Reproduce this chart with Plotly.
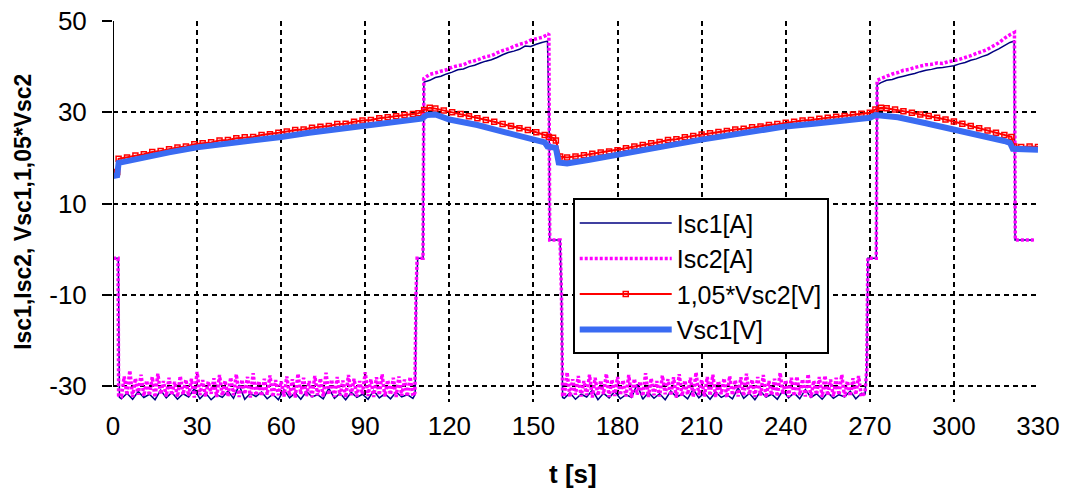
import plotly.graph_objects as go

# ---------------- data ----------------
# Isc1 [A]  (navy, solid)
isc1_t_start = [0, 1.9, 2.3]
isc1_start = [-2.0, -2.0, -32.5]
isc1_t_noise1 = list(range(3, 108, 2))
isc1_noise1 = [-32.8, -31.6, -32.9, -31.2, -32.5, -31.8, -33.0, -30.9, -32.6, -31.4,
               -32.9, -31.7, -32.4, -30.6, -32.8, -31.5, -33.0, -31.9, -32.5, -31.1,
               -32.7, -29.8, -32.9, -31.6, -32.3, -31.3, -32.8, -31.8, -33.0, -30.8,
               -32.6, -31.5, -32.9, -31.2, -32.4, -31.9, -32.8, -30.5, -32.7, -31.6,
               -33.0, -31.4, -32.5, -31.8, -32.9, -31.0, -32.6, -31.7, -32.8, -31.3,
               -32.4, -31.9, -32.7]
isc1_t_rise1 = [107.8, 108.2, 108.7, 110.6, 110.9]
isc1_rise1 = [-31.8, -10.0, -2.0, -2.0, 36.4]
isc1_t_dis1 = list(range(111, 156, 2))
isc1_dis1 = [36.6, 37.0, 37.6, 37.9, 38.4, 38.8, 39.3, 39.5, 40.0, 40.3, 40.8, 41.2,
             41.5, 42.0, 42.6, 43.1, 43.4, 43.8, 44.5, 44.4, 44.9, 45.3, 45.6]
isc1_t_fall1 = [155.4, 155.6, 155.8, 159.5, 160.0, 160.4]
isc1_fall1 = [33.5, 28.8, 2.0, 2.0, -10.0, -32.5]
isc1_t_noise2 = list(range(161, 268, 2))
isc1_noise2 = [-32.7, -31.5, -32.9, -31.8, -32.4, -30.9, -33.0, -31.6, -32.6, -31.2,
               -32.8, -31.9, -32.5, -29.6, -32.9, -31.4, -32.7, -31.7, -33.0, -31.1,
               -32.4, -31.8, -32.8, -30.7, -32.6, -31.5, -32.9, -31.3, -32.5, -31.9,
               -32.8, -30.4, -32.7, -31.6, -33.0, -31.2, -32.4, -31.8, -32.9, -31.0,
               -32.6, -31.5, -32.8, -30.8, -32.5, -31.7, -32.9, -31.4, -32.7, -31.9,
               -32.4, -31.1, -32.8, -31.6]
isc1_t_rise2 = [268.3, 268.9, 269.3, 272.3, 272.6]
isc1_rise2 = [-31.8, -26.5, -2.0, -2.0, 36.0]
isc1_t_dis2 = list(range(274, 321, 2))
isc1_dis2 = [36.5, 37.0, 37.2, 37.6, 37.9, 38.2, 38.5, 38.9, 39.2, 39.4, 39.7, 39.8,
             40.0, 40.2, 40.6, 40.9, 41.4, 41.7, 42.2, 42.6, 43.3, 43.9, 44.6, 45.3]
isc1_t_end = [321.5, 321.8, 328.5]
isc1_end = [45.6, 2.0, 2.0]

# Isc2 [A]  (magenta, dotted)
isc2_t_start = [0, 1.8, 2.0]
isc2_start = [-2.0, -2.0, -32.0]
isc2_t_noise1 = list(range(3, 108))
isc2_noise1 = [-32.3, -27.9, -32.0, -26.6, -32.4, -28.3, -31.9, -27.5, -32.2, -28.8,
               -32.1, -28.0, -32.5, -27.3, -31.8, -28.9, -32.3, -28.2, -32.0, -29.1,
               -32.4, -27.8, -31.9, -28.6, -32.2, -28.4, -32.5, -26.9, -32.0, -28.7,
               -32.3, -29.0, -31.7, -28.3, -32.4, -27.6, -32.1, -28.8, -32.3, -28.1,
               -32.0, -27.4, -32.4, -28.6, -31.8, -28.0, -32.5, -27.2, -32.1, -28.9,
               -32.2, -28.4, -31.9, -27.7, -32.4, -28.7, -32.0, -29.0, -32.3, -27.9,
               -32.1, -28.5, -32.5, -27.3, -31.8, -28.2, -32.2, -28.9, -32.4, -27.8,
               -32.0, -28.3, -32.3, -27.1, -31.9, -28.6, -32.4, -28.0, -32.1, -28.8,
               -32.5, -27.6, -32.0, -28.4, -32.3, -28.9, -31.8, -27.0, -32.2, -28.5,
               -32.4, -28.1, -32.0, -27.4, -32.3, -28.7, -31.9, -28.2, -32.4, -27.9,
               -32.1, -28.6, -32.3, -28.0, -32.2]
isc2_t_rise1 = [107.7, 108.1, 108.5, 110.6, 110.9]
isc2_rise1 = [-31.5, -10.0, -2.0, -2.0, 37.4]
isc2_t_dis1 = list(range(113, 156, 2))
isc2_dis1 = [38.3, 38.6, 39.0, 39.3, 39.9, 40.2, 40.4, 41.0, 41.3, 41.7, 42.2, 42.4,
             43.0, 43.5, 43.9, 44.4, 44.9, 45.2, 45.8, 46.1, 46.4, 47.0]
isc2_t_fall1 = [155.5, 155.8, 159.5, 160.0, 160.4]
isc2_fall1 = [47.2, 2.0, 2.0, -10.0, -32.0]
isc2_t_noise2 = list(range(161, 268))
isc2_noise2 = [-32.2, -27.0, -32.4, -28.5, -31.9, -27.8, -32.3, -28.9, -32.0, -27.5,
               -32.5, -28.2, -32.1, -28.8, -31.8, -27.3, -32.4, -28.6, -32.2, -28.0,
               -32.0, -28.7, -32.3, -27.6, -32.5, -28.4, -31.9, -29.0, -32.2, -27.2,
               -32.4, -28.3, -32.0, -28.9, -32.3, -27.7, -31.8, -28.5, -32.1, -28.1,
               -32.5, -27.4, -32.2, -28.8, -31.9, -28.2, -32.4, -27.0, -32.0, -28.6,
               -32.3, -28.0, -32.1, -27.5, -32.4, -28.9, -31.8, -28.3, -32.5, -27.8,
               -32.0, -28.7, -32.3, -28.1, -32.2, -27.3, -31.9, -28.6, -32.4, -28.0,
               -32.1, -27.6, -32.5, -28.9, -32.0, -28.4, -32.3, -27.1, -31.8, -28.7,
               -32.4, -28.2, -32.2, -27.9, -32.0, -28.5, -32.3, -27.4, -32.5, -28.8,
               -31.9, -28.0, -32.4, -27.7, -32.1, -28.6, -32.3, -28.2, -32.0, -27.5,
               -32.4, -28.9, -32.2, -28.3, -31.9, -27.8, -32.3]
isc2_t_rise2 = [268.3, 268.9, 269.3, 272.3, 272.6]
isc2_rise2 = [-31.5, -26.5, -2.0, -2.0, 37.0]
isc2_t_dis2 = list(range(274, 321, 2))
isc2_dis2 = [37.4, 37.9, 38.4, 38.7, 39.2, 39.4, 39.8, 40.1, 40.4, 40.5, 40.8, 40.7,
             41.1, 41.3, 41.6, 42.0, 42.4, 42.9, 43.3, 43.8, 44.5, 45.2, 46.2, 47.0]
isc2_t_end = [321.6, 321.9, 328.5]
isc2_end = [47.5, 2.0, 2.0]

# 1,05*Vsc2 [V]  (red with small open markers)
vsc2_t = ([0, 1.5] + list(range(2, 108, 3)) +
          [109, 111, 113, 115, 118, 121, 124, 127, 130, 133, 136, 139, 142, 145, 148,
           151, 154, 155.5, 157, 158, 159.5] +
          list(range(162, 271, 3)) +
          [272, 274, 276, 279, 282, 285, 288, 291, 294, 297, 300, 303, 306, 309, 312,
           315, 318, 320.5, 321.5, 324, 327, 330])
vsc2_105 = ([16.6, 16.9] +
            [19.8, 20.1, 20.5, 20.8, 21.3, 21.5, 21.9, 22.3, 22.5, 23.0, 23.2, 23.4,
             23.8, 23.9, 24.3, 24.5, 24.6, 25.0, 25.2, 25.5, 25.8, 26.1, 26.2, 26.6,
             26.8, 27.0, 27.4, 27.5, 27.9, 28.2, 28.3, 28.7, 28.9, 29.1, 29.4, 29.6] +
            [29.8, 30.5, 31.0, 30.8, 30.4, 30.0, 29.6, 29.1, 28.7, 28.3, 27.9, 27.4,
             27.0, 26.5, 26.1, 25.6, 25.0, 24.6, 24.4, 23.8, 20.3] +
            [20.1, 20.3, 20.6, 20.9, 21.2, 21.4, 21.7, 22.1, 22.5, 22.8, 23.2, 23.5,
             23.9, 24.1, 24.5, 24.8, 25.1, 25.4, 25.7, 25.9, 26.2, 26.4, 26.7, 26.9,
             27.2, 27.4, 27.7, 27.9, 28.2, 28.3, 28.6, 28.8, 29.0, 29.2, 29.5, 29.7,
             29.9] +
            [30.6, 31.0, 30.9, 30.6, 30.2, 29.9, 29.5, 29.2, 28.8, 28.4, 28.0, 27.5,
             27.0, 26.5, 26.0, 25.5, 25.0, 24.6, 22.5, 22.4, 22.5, 22.4])

# Vsc1 [V]  (blue, thick)
vsc1_t = [0, 1.5, 2, 10, 20, 30, 40, 50, 60, 70, 80, 90, 100, 108, 110, 112, 115, 120,
          130, 140, 150, 154, 155, 158, 159, 162, 170, 180, 190, 200, 210, 220, 230,
          240, 250, 260, 268, 270, 272, 275, 280, 290, 300, 310, 318, 320, 321, 330]
vsc1 = [16.0, 16.2, 18.9, 20.0, 21.2, 22.3, 23.0, 23.8, 24.6, 25.5, 26.3, 27.2, 28.0,
        28.5, 28.6, 29.4, 29.5, 28.4, 27.2, 25.6, 24.0, 23.4, 22.5, 22.2, 19.0, 18.8,
        19.6, 20.6, 21.8, 22.9, 24.0, 25.0, 26.0, 26.9, 27.5, 28.1, 28.6, 28.8, 29.4,
        29.3, 28.9, 27.6, 26.3, 24.9, 23.7, 23.3, 22.0, 21.8]

x_ticks = [0, 30, 60, 90, 120, 150, 180, 210, 240, 270, 300, 330]
y_ticks = [-30, -10, 10, 30, 50]

# ---------------- assemble series ----------------
isc1_t = (isc1_t_start + isc1_t_noise1 + isc1_t_rise1 + isc1_t_dis1 + isc1_t_fall1 +
          isc1_t_noise2 + isc1_t_rise2 + isc1_t_dis2 + isc1_t_end)
isc1 = (isc1_start + isc1_noise1 + isc1_rise1 + isc1_dis1 + isc1_fall1 +
        isc1_noise2 + isc1_rise2 + isc1_dis2 + isc1_end)
isc2_t = (isc2_t_start + isc2_t_noise1 + isc2_t_rise1 + isc2_t_dis1 + isc2_t_fall1 +
          isc2_t_noise2 + isc2_t_rise2 + isc2_t_dis2 + isc2_t_end)
isc2 = (isc2_start + isc2_noise1 + isc2_rise1 + isc2_dis1 + isc2_fall1 +
        isc2_noise2 + isc2_rise2 + isc2_dis2 + isc2_end)

FONT = "Liberation Sans, Arial, sans-serif"

fig = go.Figure()
fig.add_trace(go.Scatter(x=isc1_t, y=isc1, mode="lines", name="Isc1[A]",
                         line=dict(color="#000080", width=1.5, simplify=False)))
fig.add_trace(go.Scatter(x=isc2_t, y=isc2, mode="lines", name="Isc2[A]",
                         line=dict(color="#FF00FF", width=3.5, dash="3px,2px",
                                   simplify=False)))
fig.add_trace(go.Scatter(x=vsc2_t, y=vsc2_105, mode="lines+markers", name="1,05*Vsc2[V]",
                         line=dict(color="#FF0000", width=2),
                         marker=dict(symbol="square-open", size=5, color="#FF0000",
                                     line=dict(width=1.5))))
fig.add_trace(go.Scatter(x=vsc1_t, y=vsc1, mode="lines", name="Vsc1[V]",
                         line=dict(color="#3A6BF2", width=6)))

# y axis line (solid, from -30 to 50 at t=0)
fig.add_shape(type="line", xref="x", yref="y", x0=0, x1=0, y0=-30, y1=50,
              line=dict(color="black", width=2), layer="above")

fig.update_layout(
    width=1067, height=489,
    margin=dict(l=113, r=29, t=21, b=87),
    paper_bgcolor="white", plot_bgcolor="white",
    font=dict(family=FONT, color="black"),
    showlegend=True,
    legend=dict(x=0.497, y=0.535, xanchor="left", yanchor="top",
                bgcolor="white", bordercolor="black", borderwidth=2,
                font=dict(size=25, family=FONT), itemwidth=92,
                entrywidth=270, tracegroupgap=0),
    xaxis=dict(range=[0, 330], tickvals=x_ticks, ticktext=[str(v) for v in x_ticks],
               showgrid=True, gridcolor="black", gridwidth=1.5, griddash="5px,4px",
               zeroline=False, showline=False, ticks="", automargin=False,
               tickfont=dict(size=26, family=FONT), ticklabelstandoff=6),
    yaxis=dict(range=[-33.5, 50], tickvals=y_ticks, ticktext=[str(v) for v in y_ticks],
               showgrid=True, gridcolor="black", gridwidth=1.5, griddash="5px,4px",
               zeroline=False, showline=False, ticks="outside", ticklen=10,
               tickwidth=2, tickcolor="black", automargin=False,
               tickfont=dict(size=26, family=FONT), ticklabelstandoff=10),
    annotations=[
        dict(text="<b>Isc1,Isc2, Vsc1,1,05*Vsc2</b>", xref="paper", yref="paper",
             x=-0.098, y=0.5, textangle=-90, showarrow=False,
             font=dict(size=23, family=FONT), xanchor="center", yanchor="middle"),
        dict(text="<b>t [s]</b>", xref="paper", yref="paper",
             x=0.497, y=-0.19, showarrow=False,
             font=dict(size=26, family=FONT), xanchor="center", yanchor="middle"),
    ],
)

fig.write_html("out.html", config={"displayModeBar": False},
               post_script="document.body.style.margin='0px';document.body.style.overflow='hidden';")
